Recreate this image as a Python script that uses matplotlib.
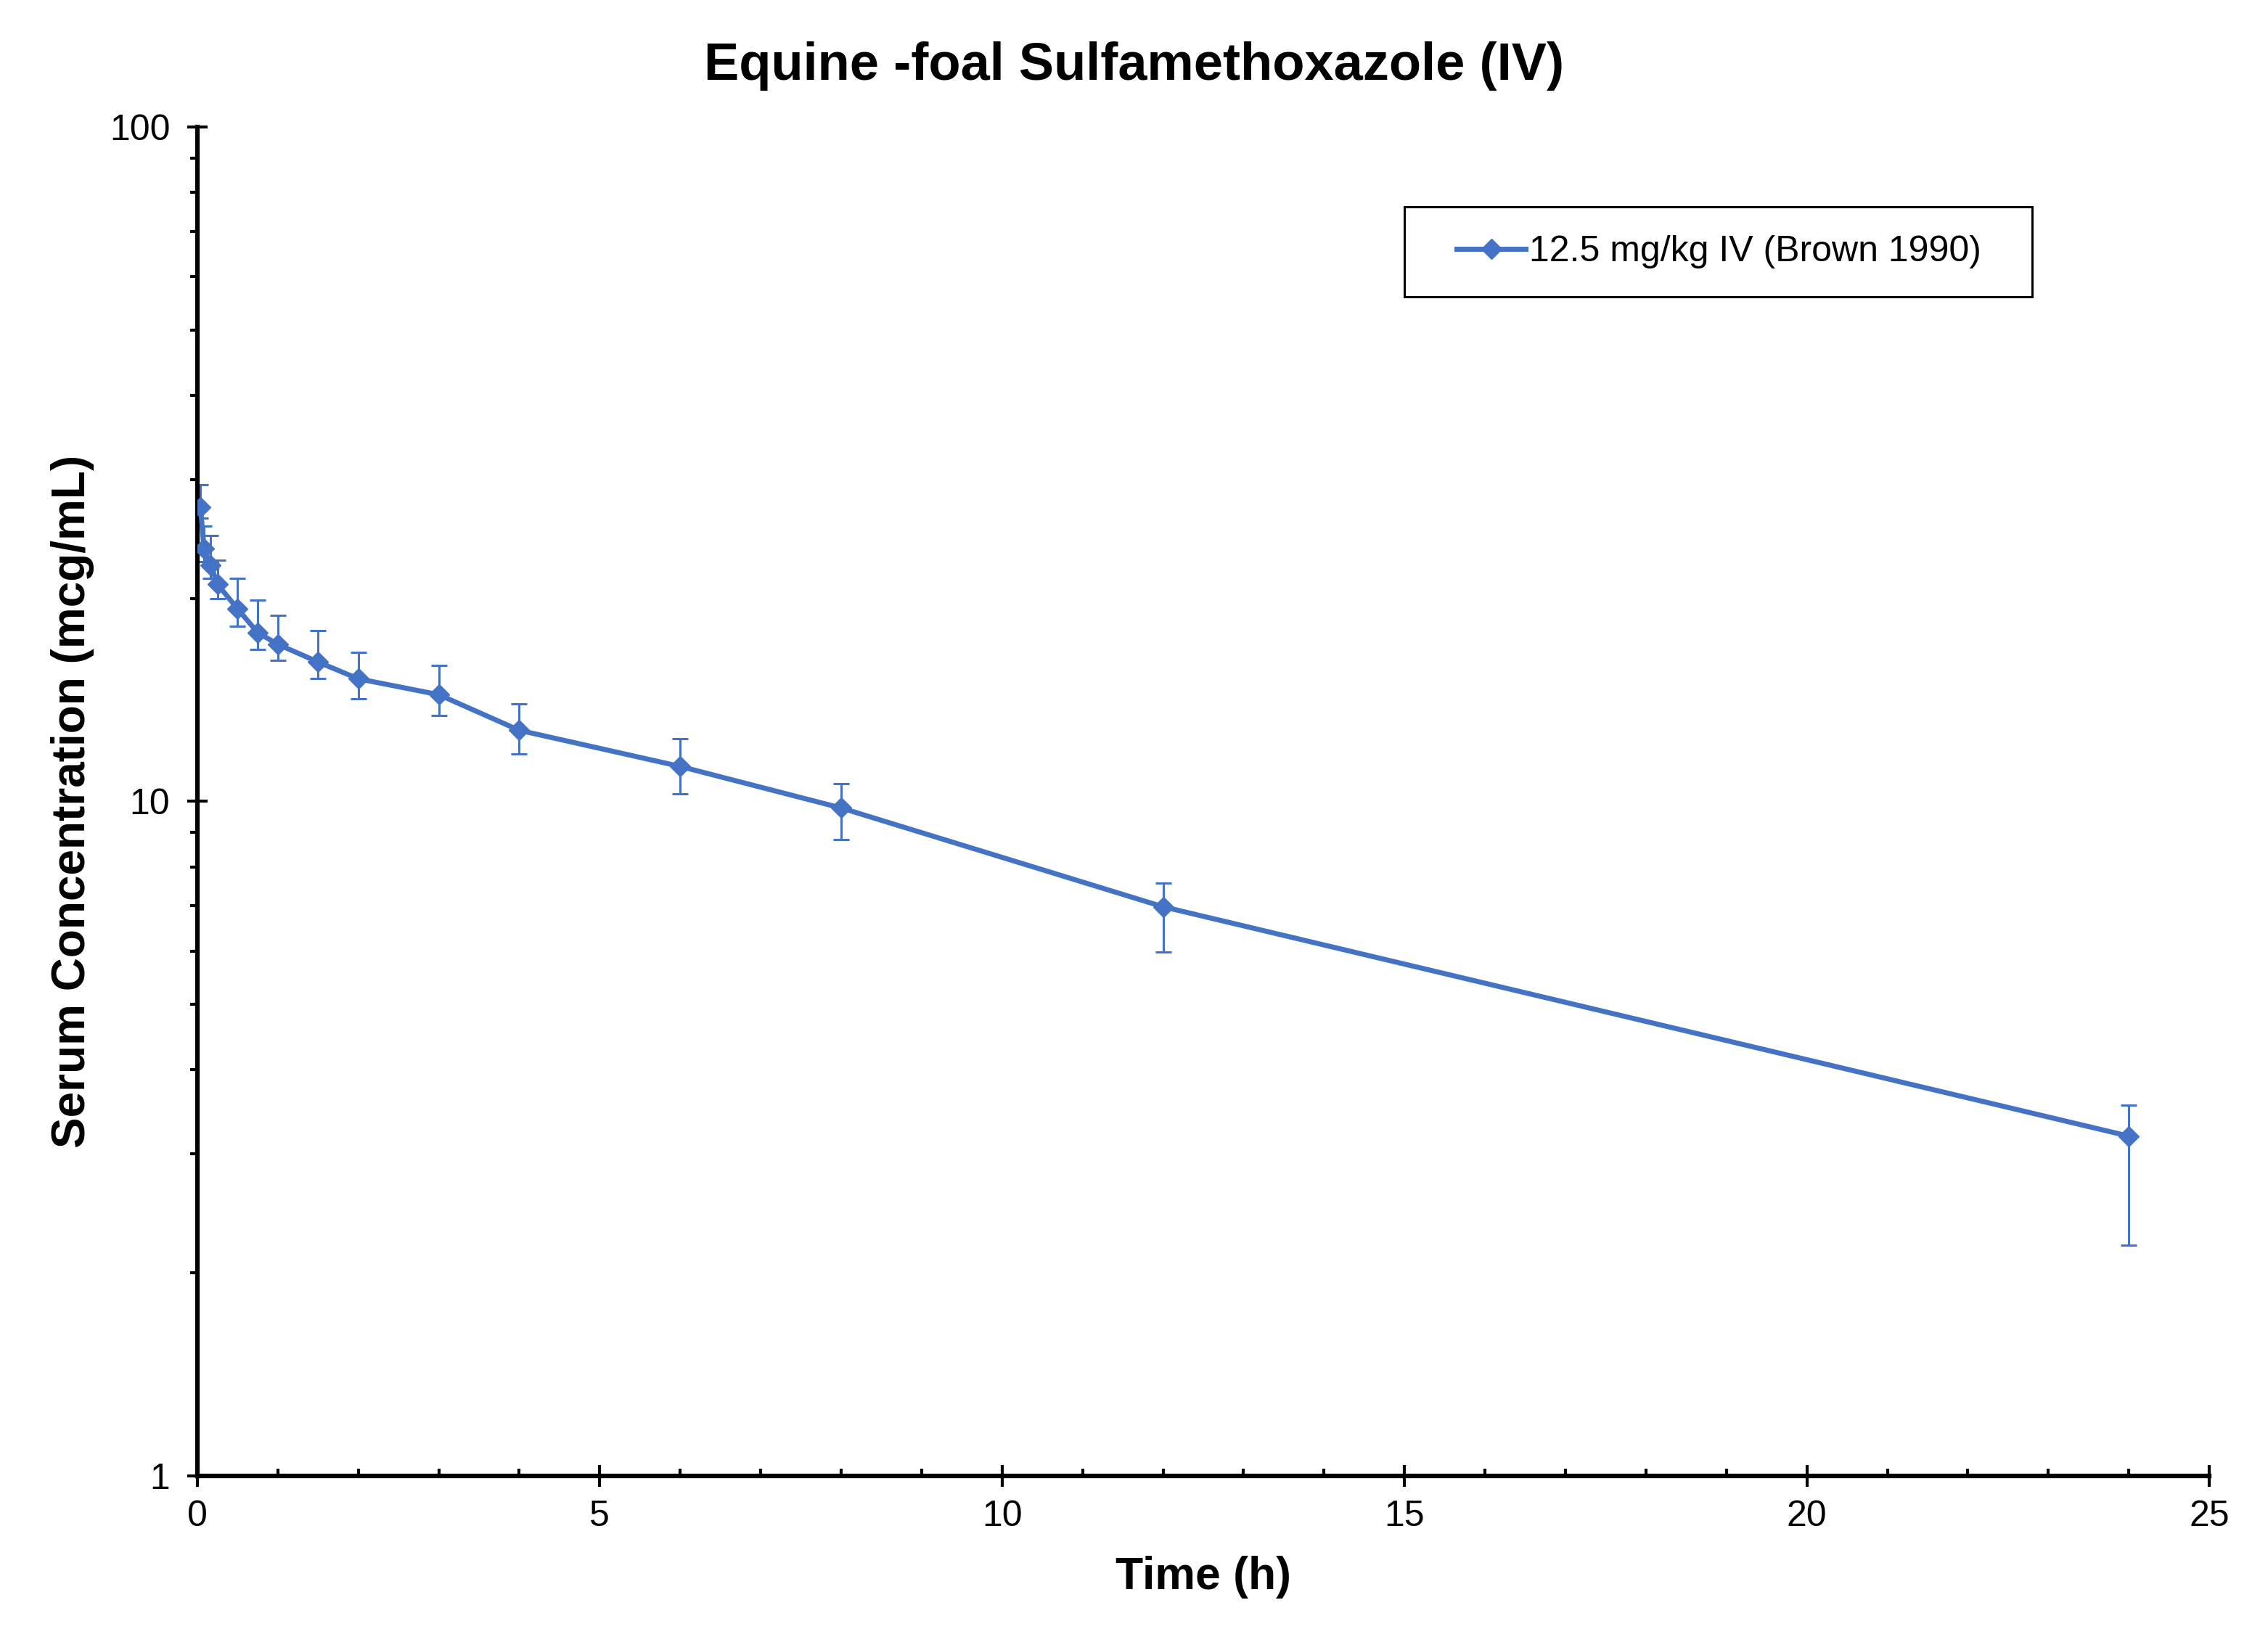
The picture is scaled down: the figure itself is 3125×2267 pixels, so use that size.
import matplotlib
matplotlib.use("Agg")
import matplotlib.pyplot as plt
import matplotlib.ticker as mticker
from matplotlib.patches import Rectangle

# Brown 1990, 12.5 mg/kg IV, foals
time_h = [0.04, 0.083, 0.167, 0.25, 0.5, 0.75, 1, 1.5, 2, 3, 4, 6, 8, 12, 24]
conc = [27.3, 23.7, 22.4, 21.0, 19.3, 17.8, 17.1, 16.1, 15.2, 14.4, 12.75, 11.27, 9.78, 6.98, 3.19]
conc_hi = [29.5, 25.6, 24.8, 22.8, 21.4, 19.9, 18.9, 17.9, 16.65, 15.9, 13.96, 12.4, 10.62, 7.57, 3.55]
conc_lo = [26.3, 22.7, 21.4, 20.0, 18.2, 16.8, 16.2, 15.2, 14.2, 13.4, 11.77, 10.27, 8.78, 5.98, 2.20]
series_label = "12.5 mg/kg IV (Brown 1990)"
y_ticks = [1, 10, 100]

blue = "#4472C4"
plt.rcParams["font.family"] = ["Liberation Sans", "DejaVu Sans"]

fig = plt.figure(figsize=(31.25, 22.67), dpi=100)
ax = fig.add_axes([0.0870, 0.1028, 0.8871, 0.8200])

err = [[c - lo for c, lo in zip(conc, conc_lo)], [hi - c for c, hi in zip(conc, conc_hi)]]
ax.errorbar(time_h, conc, yerr=err, fmt="none", ecolor=blue, elinewidth=2.2,
            capsize=8, capthick=2.2, zorder=2)
ax.plot(time_h, conc, color=blue, lw=5, marker="D", ms=14, label=series_label, zorder=3)

ax.set_yscale("log")
ax.set_xlim(0, 25)
ax.set_ylim(1, 100)
ax.yaxis.set_major_locator(mticker.FixedLocator(y_ticks))
ax.yaxis.set_major_formatter(mticker.FuncFormatter(lambda v, p: f"{v:g}"))
ax.yaxis.set_minor_locator(mticker.LogLocator(base=10, subs=range(2, 10)))
ax.yaxis.set_minor_formatter(mticker.NullFormatter())
ax.xaxis.set_major_locator(mticker.MultipleLocator(5))
ax.xaxis.set_minor_locator(mticker.MultipleLocator(1))

for s in ["top", "right"]:
    ax.spines[s].set_visible(False)
for s in ["left", "bottom"]:
    ax.spines[s].set_linewidth(4.5)

ax.tick_params(axis="y", which="major", direction="inout", length=20, width=3, labelsize=36, pad=17)
ax.tick_params(axis="y", which="minor", direction="out", length=7, width=3)
ax.tick_params(axis="x", which="major", direction="inout", length=22, width=3, labelsize=36, pad=13)
ax.tick_params(axis="x", which="minor", direction="in", length=7, width=3)

ax.set_xlabel("Time (h)", fontsize=45, fontweight="bold", va="center")
ax.xaxis.set_label_coords(0.5, -0.0748)
ax.set_ylabel("Serum Concentration (mcg/mL)", fontsize=46, fontweight="bold", va="center")
ax.yaxis.set_label_coords(-0.062, 0.5)
fig.suptitle("Equine -foal Sulfamethoxazole (IV)", fontsize=52, fontweight="bold", x=0.5, y=0.960, va="center")

ax.add_patch(Rectangle((0.600, 0.874), 0.312, 0.0668, transform=ax.transAxes,
                       fill=False, ec="black", lw=2.2, zorder=4))
ax.legend(loc="center left", bbox_to_anchor=(0.626, 0.9074), frameon=False, fontsize=36,
          handlelength=1.9, handletextpad=0.1, borderpad=0, borderaxespad=0)

fig.savefig("out.png", dpi=100)
